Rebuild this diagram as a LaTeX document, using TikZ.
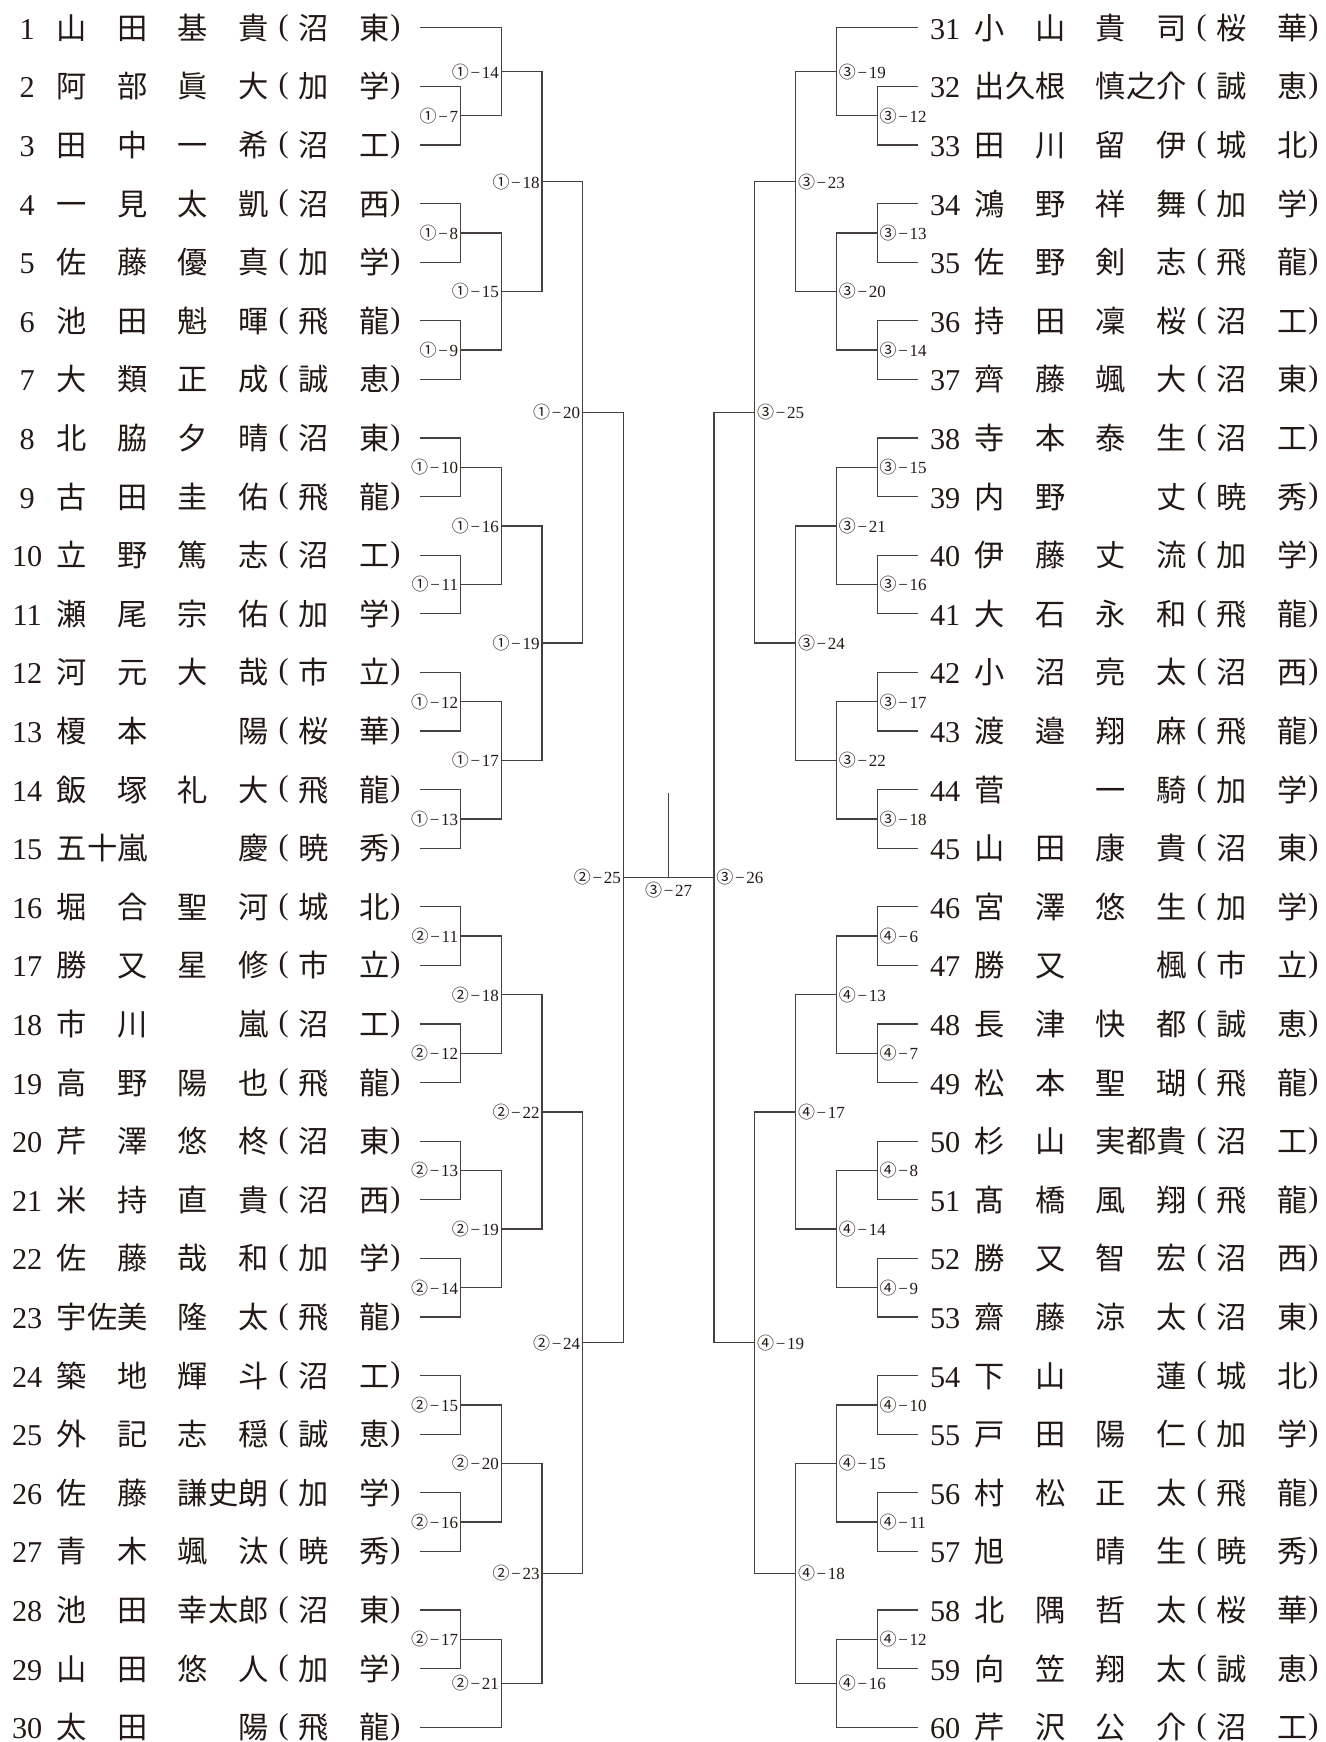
\documentclass[tikz,border=0pt]{standalone}
\usepackage{fontspec}
\setmainfont{Liberation Serif}
\newfontfamily\cjk{Noto Sans CJK JP}
\usepackage{tikz}
\usetikzlibrary{positioning}
\usepackage{xcolor}
\definecolor{ink}{RGB}{35,24,21}
\definecolor{rulegray}{RGB}{70,64,62}
\newcommand{\op}{\hbox to 15.125pt{\hss\raisebox{.14em}{\rmfamily(}\hss}}
\newcommand{\cp}{\kern.03em\raisebox{.14em}{\rmfamily)}}
\newcommand{\ent}[5]{\makebox[15.125pt]{\rmfamily#1}\hspace{7.25pt}\hbox to 45.375pt{#2}\hspace{15.125pt}\hbox to 45.375pt{#3}\op#4\hspace{15.125pt}#5\cp}
\newcommand{\tg}[2]{{\cjk#1}\kern.1em−\kern.1em#2}

\begin{document}
\begin{tikzpicture}[x=.5pt,y=-29.3pt,
  entry/.style={inner sep=0pt,text=ink,font=\cjk\fontsize{15.125pt}{18pt}\selectfont,text height=13.3pt,text depth=1.8pt},
  tagL/.style={anchor=east,inner sep=1pt,text=ink,font=\fontsize{8.5pt}{10pt}\selectfont},
  tagR/.style={tagL,anchor=west},
  bk/.style={draw=rulegray,line width=.65pt}]
\useasboundingbox (0,.5256) rectangle (1326,30.2526);
\foreach \i/\sur/\giv/\sa/\sb in {1/{山\hfill 田}/{基\hfill 貴}/沼/東,2/{阿\hfill 部}/{眞\hfill 大}/加/学,3/{田\hfill 中}/{一\hfill 希}/沼/工,
  4/{一\hfill 見}/{太\hfill 凱}/沼/西,5/{佐\hfill 藤}/{優\hfill 真}/加/学,6/{池\hfill 田}/{魁\hfill 暉}/飛/龍,
  7/{大\hfill 類}/{正\hfill 成}/誠/恵,8/{北\hfill 脇}/{夕\hfill 晴}/沼/東,9/{古\hfill 田}/{圭\hfill 佑}/飛/龍,
  10/{立\hfill 野}/{篤\hfill 志}/沼/工,11/{瀬\hfill 尾}/{宗\hfill 佑}/加/学,12/{河\hfill 元}/{大\hfill 哉}/市/立,
  13/{榎\hfill 本}/{\hfill 陽}/桜/華,14/{飯\hfill 塚}/{礼\hfill 大}/飛/龍,15/{五十嵐}/{\hfill 慶}/暁/秀,
  16/{堀\hfill 合}/{聖\hfill 河}/城/北,17/{勝\hfill 又}/{星\hfill 修}/市/立,18/{市\hfill 川}/{\hfill 嵐}/沼/工,
  19/{高\hfill 野}/{陽\hfill 也}/飛/龍,20/{芹\hfill 澤}/{悠\hfill 柊}/沼/東,21/{米\hfill 持}/{直\hfill 貴}/沼/西,
  22/{佐\hfill 藤}/{哉\hfill 和}/加/学,23/{宇佐美}/{隆\hfill 太}/飛/龍,24/{築\hfill 地}/{輝\hfill 斗}/沼/工,
  25/{外\hfill 記}/{志\hfill 穏}/誠/恵,26/{佐\hfill 藤}/{謙史朗}/加/学,27/{青\hfill 木}/{颯\hfill 汰}/暁/秀,
  28/{池\hfill 田}/{幸太郎}/沼/東,29/{山\hfill 田}/{悠\hfill 人}/加/学,30/{太\hfill 田}/{\hfill 陽}/飛/龍}
  \node[entry,anchor=east,outer xsep=9.63pt] (p\i) at (419.8,\i) {\ent{\i}{\sur}{\giv}{\sa}{\sb}};
\foreach \i/\sur/\giv/\sa/\sb in {31/{小\hfill 山}/{貴\hfill 司}/桜/華,32/{出久根}/{慎之介}/誠/恵,33/{田\hfill 川}/{留\hfill 伊}/城/北,
  34/{鴻\hfill 野}/{祥\hfill 舞}/加/学,35/{佐\hfill 野}/{剣\hfill 志}/飛/龍,36/{持\hfill 田}/{凜\hfill 桜}/沼/工,
  37/{齊\hfill 藤}/{颯\hfill 大}/沼/東,38/{寺\hfill 本}/{泰\hfill 生}/沼/工,39/{内\hfill 野}/{\hfill 丈}/暁/秀,
  40/{伊\hfill 藤}/{丈\hfill 流}/加/学,41/{大\hfill 石}/{永\hfill 和}/飛/龍,42/{小\hfill 沼}/{亮\hfill 太}/沼/西,
  43/{渡\hfill 邉}/{翔\hfill 麻}/飛/龍,44/{菅\hfill}/{一\hfill 騎}/加/学,45/{山\hfill 田}/{康\hfill 貴}/沼/東,
  46/{宮\hfill 澤}/{悠\hfill 生}/加/学,47/{勝\hfill 又}/{\hfill 楓}/市/立,48/{長\hfill 津}/{快\hfill 都}/誠/恵,
  49/{松\hfill 本}/{聖\hfill 瑚}/飛/龍,50/{杉\hfill 山}/{実都貴}/沼/工,51/{髙\hfill 橋}/{風\hfill 翔}/飛/龍,
  52/{勝\hfill 又}/{智\hfill 宏}/沼/西,53/{齋\hfill 藤}/{涼\hfill 太}/沼/東,54/{下\hfill 山}/{\hfill 蓮}/城/北,
  55/{戸\hfill 田}/{陽\hfill 仁}/加/学,56/{村\hfill 松}/{正\hfill 太}/飛/龍,57/{旭\hfill}/{晴\hfill 生}/暁/秀,
  58/{北\hfill 隅}/{哲\hfill 太}/桜/華,59/{向\hfill 笠}/{翔\hfill 太}/誠/恵,60/{芹\hfill 沢}/{公\hfill 介}/沼/工}
  \node[entry,anchor=west,outer xsep=6pt] (p\i) at (918,\i-30) {\ent{\i}{\sur}{\giv}{\sa}{\sb}};
\foreach \m/\k/\y/\ina/\inb/\cir/\nr in {A7/1/2.5/p2/p3/①/7,A14/2/1.75/p1/A7/①/14,A8/1/4.5/p4/p5/①/8,A9/1/6.5/p6/p7/①/9,
  A15/2/5.5/A8/A9/①/15,A18/3/3.625/A14/A15/①/18,A10/1/8.5/p8/p9/①/10,A11/1/10.5/p10/p11/①/11,
  A16/2/9.5/A10/A11/①/16,A12/1/12.5/p12/p13/①/12,A13/1/14.5/p14/p15/①/13,A17/2/13.5/A12/A13/①/17,
  A19/3/11.5/A16/A17/①/19,A20/4/7.5625/A18/A19/①/20,B11/1/16.5/p16/p17/②/11,B12/1/18.5/p18/p19/②/12,
  B18/2/17.5/B11/B12/②/18,B13/1/20.5/p20/p21/②/13,B14/1/22.5/p22/p23/②/14,B19/2/21.5/B13/B14/②/19,
  B22/3/19.5/B18/B19/②/22,B15/1/24.5/p24/p25/②/15,B16/1/26.5/p26/p27/②/16,B20/2/25.5/B15/B16/②/20,
  B17/1/28.5/p28/p29/②/17,B21/2/29.25/B17/p30/②/21,B23/3/27.375/B20/B21/②/23,B24/4/23.4375/B22/B23/②/24,
  B25/5/15.5/A20/B24/②/25}{
  \coordinate (\m) at (419.8+40.7*\k,\y);
  \draw[bk] (\ina) -| (\m);
  \draw[bk] (\inb) -| (\m);
  \node[tagL] (t\m) at (\m) {\tg{\cir}{\nr}};}
\foreach \m/\k/\y/\ina/\inb/\cir/\nr in {C12/1/2.5/p32/p33/③/12,C19/2/1.75/p31/C12/③/19,C13/1/4.5/p34/p35/③/13,C14/1/6.5/p36/p37/③/14,
  C20/2/5.5/C13/C14/③/20,C23/3/3.625/C19/C20/③/23,C15/1/8.5/p38/p39/③/15,C16/1/10.5/p40/p41/③/16,
  C21/2/9.5/C15/C16/③/21,C17/1/12.5/p42/p43/③/17,C18/1/14.5/p44/p45/③/18,C22/2/13.5/C17/C18/③/22,
  C24/3/11.5/C21/C22/③/24,C25/4/7.5625/C23/C24/③/25,D6/1/16.5/p46/p47/④/6,D7/1/18.5/p48/p49/④/7,
  D13/2/17.5/D6/D7/④/13,D8/1/20.5/p50/p51/④/8,D9/1/22.5/p52/p53/④/9,D14/2/21.5/D8/D9/④/14,
  D17/3/19.5/D13/D14/④/17,D10/1/24.5/p54/p55/④/10,D11/1/26.5/p56/p57/④/11,D15/2/25.5/D10/D11/④/15,
  D12/1/28.5/p58/p59/④/12,D16/2/29.25/D12/p60/④/16,D18/3/27.375/D15/D16/④/18,D19/4/23.4375/D17/D18/④/19,
  C26/5/15.5/C25/D19/③/26}{
  \coordinate (\m) at (918-40.8*\k,\y);
  \draw[bk] (\ina) -| (\m);
  \draw[bk] (\inb) -| (\m);
  \node[tagR] (t\m) at (\m) {\tg{\cir}{\nr}};}
\coordinate (C27) at (668.65,15.5);
\coordinate (C27top) at (668.65,14.058);
\draw[bk] (B25) -- (C26);
\draw[bk] (C27) -- (C27top);
\node[tagL,anchor=north,yshift=-1pt] (tC27) at (C27) {\tg{③}{27}};
\end{tikzpicture}
\end{document}
